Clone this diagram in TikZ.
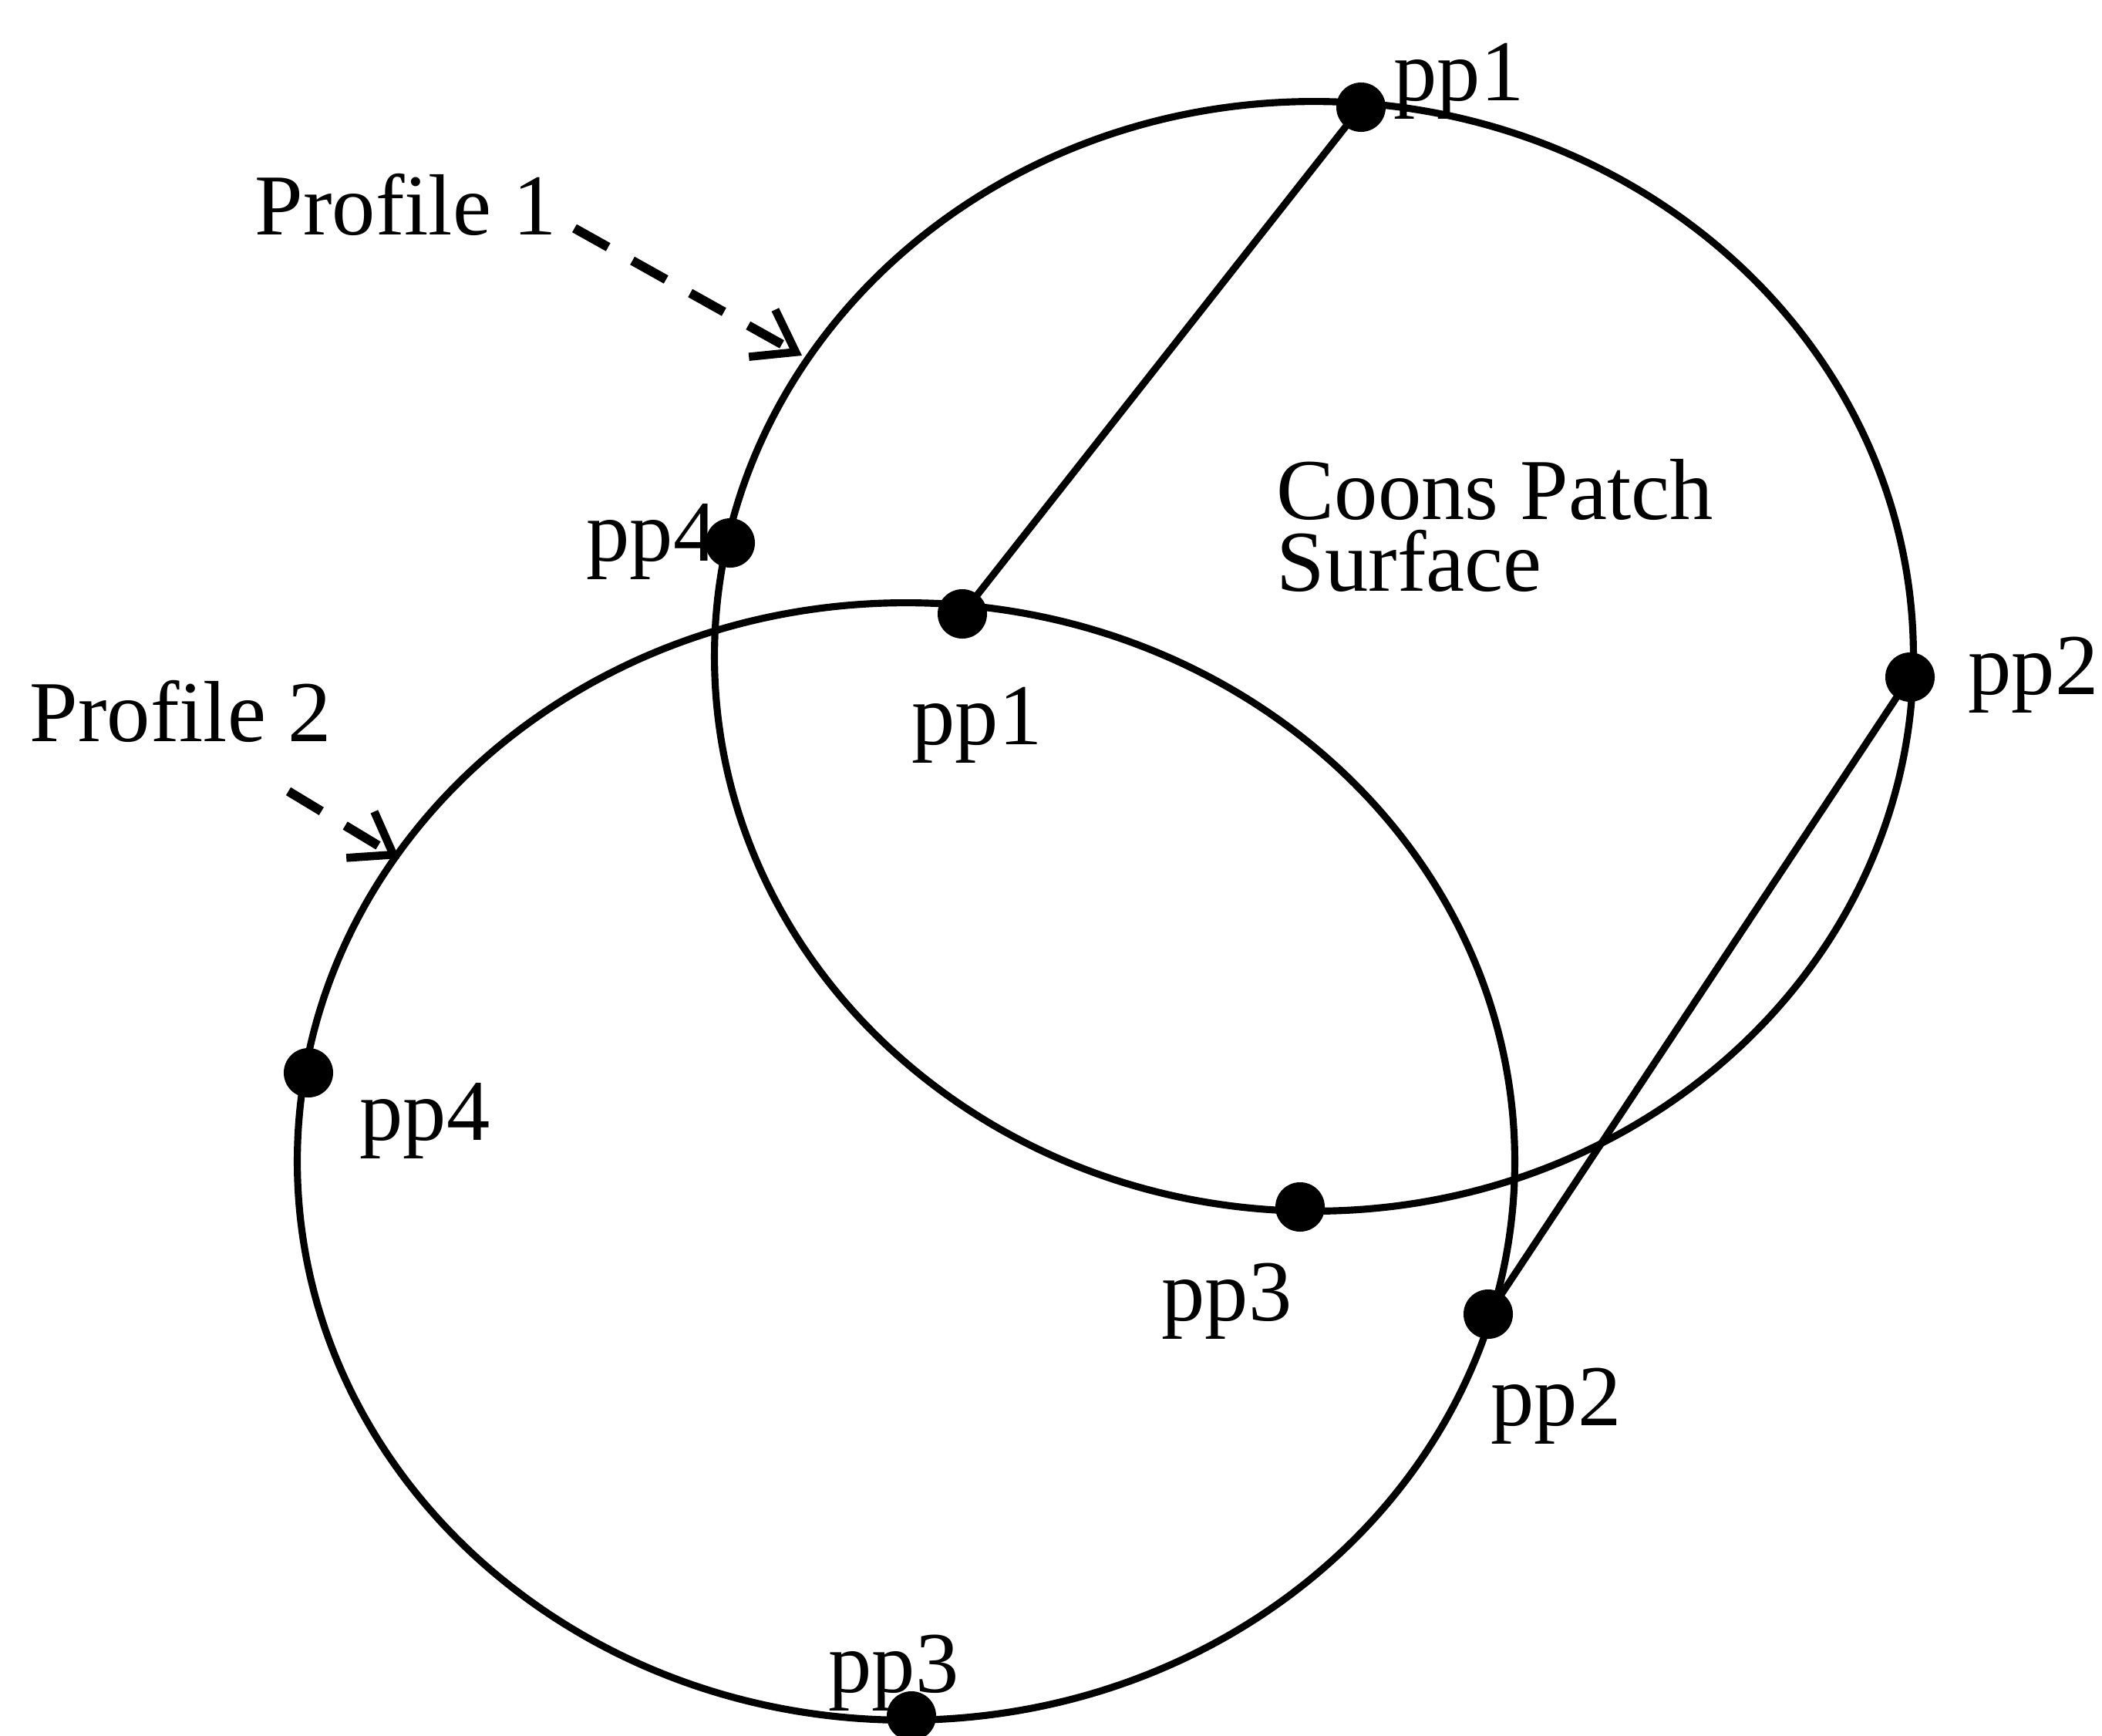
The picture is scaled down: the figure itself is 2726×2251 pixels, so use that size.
\documentclass[tikz,border=0pt]{standalone}
\usepackage{fontspec}
\setmainfont{Liberation Serif}
\usetikzlibrary{arrows.meta}
\begin{document}
\begin{tikzpicture}[x=0.01cm,y=-0.01cm,
  curve/.style={line width=2.6pt},
  dot/.style={circle,fill=black,inner sep=0pt,minimum size=0.64cm},
  lbl/.style={anchor=base west,inner sep=0pt,font=\fontsize{32}{27}\selectfont},
  pointer/.style={line width=3.4pt,dash pattern=on 0.5cm off 0.36cm,
    -{Straight Barb[length=5mm,width=7mm,line width=3pt]}}]
\useasboundingbox (0,0) rectangle (2726,2251);
% profiles
\draw[curve] (1704,851) ellipse [x radius=7.77cm, y radius=7.19cm];
\draw[curve] (1175,1506) ellipse [x radius=7.89cm, y radius=7.24cm];
% points on profile 1
\node[dot] (a1) at (1765,139) {};
\node[dot] (a2) at (2477,878) {};
\node[dot] (a3) at (1686,1565) {};
\node[dot] (a4) at (947,704) {};
% points on profile 2
\node[dot] (b1) at (1248,796) {};
\node[dot] (b2) at (1930,1704) {};
\node[dot] (b3) at (1182,2225) {};
\node[dot] (b4) at (400,1391) {};
% rulings
\draw[curve] (a1.center) -- (b1.center);
\draw[curve] (a2.center) -- (b2.center);
% labels
\node[lbl] (la1) at (1807,130) {pp1};
\node[lbl] (la2) at (2552,900) {pp2};
\node[lbl] (la3) at (1506,1712) {pp3};
\node[lbl] (la4) at (760,727) {pp4};
\node[lbl] (lb1) at (1182,965) {pp1};
\node[lbl] (lb2) at (1933,1848) {pp2};
\node[lbl] (lb3) at (1074,2194) {pp3};
\node[lbl] (lb4) at (466,1478) {pp4};
\node[lbl] (cps1) at (1655,673) {Coons Patch};
\node[lbl] (cps2) at (1655,766) {Surface};
\node[lbl] (p1) at (330,304) {Profile 1};
\node[lbl] (p2) at (38,961) {Profile 2};
\coordinate (t1) at (1040,461);
\coordinate (t2) at (518,1113);
\draw[pointer] (745,296) -- (t1);
\draw[pointer] (374,1026) -- (t2);
\end{tikzpicture}
\end{document}
